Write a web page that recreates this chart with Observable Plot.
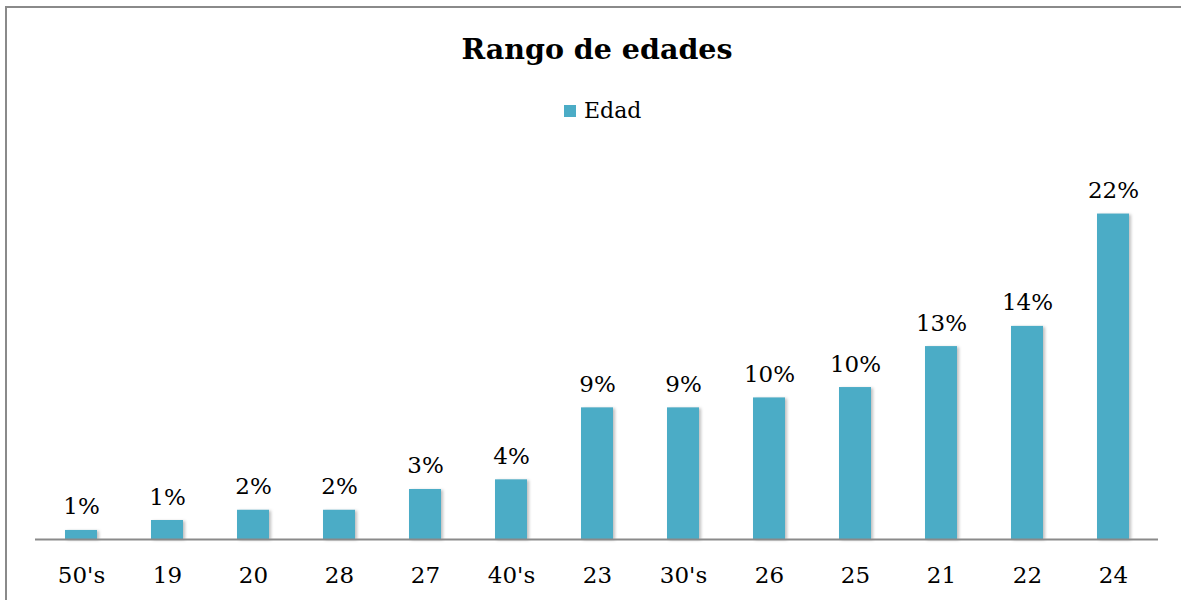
<!DOCTYPE html>
<html>
<head>
<meta charset="utf-8">
<script src="https://cdn.jsdelivr.net/npm/d3@7"></script>
<script src="https://cdn.jsdelivr.net/npm/@observablehq/plot@0.6"></script>
<style>
  html, body { margin: 0; padding: 0; background: #fff; }
  #wrap { position: relative; width: 1181px; height: 600px; overflow: hidden; font-family: "DejaVu Serif", serif; color: #000; }
  #frame { position: absolute; left: 5px; top: 6px; width: 1300px; height: 700px; border-top: 2px solid #8a8a8a; border-left: 2px solid #8a8a8a; }
  #title { position: absolute; left: 0; top: 35px; width: 1194px; text-align: center; font-size: 28.5px; font-weight: bold; line-height: 1; }
  #legend { position: absolute; left: 564px; top: 100px; font-size: 22px; line-height: 1; display: flex; align-items: center; gap: 8px; }
  #legend .sw { width: 12px; height: 12px; background: #4BACC6; display: inline-block; }
  #chart { position: absolute; left: 0; top: 130px; }
</style>
</head>
<body>
<div id="wrap">
  <div id="frame"></div>
  <div id="title">Rango de edades</div>
  <div id="legend"><span class="sw"></span><span>Edad</span></div>
  <div id="chart"></div>
</div>
<script>
const categories = ["50's", "19", "20", "28", "27", "40's", "23", "30's", "26", "25", "21", "22", "24"];
const values = [0.61, 1.28, 1.97, 1.97, 3.37, 4.02, 8.87, 8.87, 9.54, 10.24, 13.0, 14.36, 21.93];
const labels = ["1%", "1%", "2%", "2%", "3%", "4%", "9%", "9%", "10%", "10%", "13%", "14%", "22%"];
const seriesName = "Edad";

const data = categories.map((c, i) => ({ cat: c, value: values[i], label: labels[i], series: seriesName }));

const chart = Plot.plot({
  width: 1181,
  height: 470,
  marginLeft: 35,
  marginRight: 23,
  marginTop: 38,
  marginBottom: 61,
  style: { fontFamily: "'DejaVu Serif', serif", background: "transparent", color: "#000", overflow: "visible" },
  x: { domain: categories, paddingInner: 0.63, paddingOuter: 0.315, label: null },
  y: { domain: [0, 25], axis: null },
  marks: [
    Plot.barY(data, { x: "cat", y: "value", fill: "#4BACC6" }),
    Plot.ruleY([0], { stroke: "#8a8a8a", strokeWidth: 2 }),
    Plot.text(data, { x: "cat", y: "value", text: "label", lineAnchor: "bottom", dy: -16, fontSize: 23, fill: "#000" }),
    Plot.axisX({ tickSize: 0, tickPadding: 27, fontSize: 23, label: null, color: "#000" })
  ]
});
document.getElementById("chart").appendChild(chart);
d3.select(chart).selectAll("g[aria-label='bar'] rect").style("filter", "drop-shadow(2px 1px 1.5px rgba(0,0,0,0.25))");
</script>
</body>
</html>
